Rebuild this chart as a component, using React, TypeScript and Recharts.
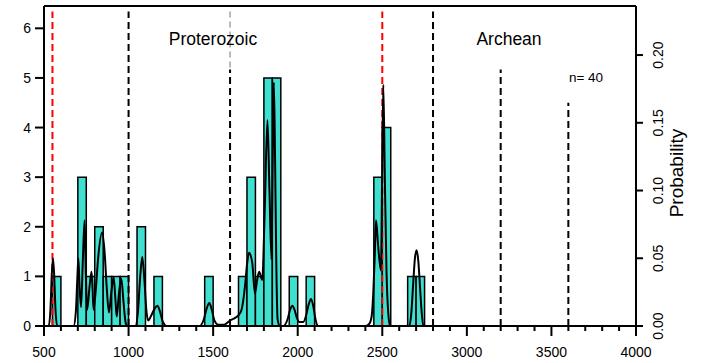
import React from 'react';
import {
  ComposedChart,
  Line,
  XAxis,
  YAxis,
  ReferenceArea,
  ReferenceLine,
} from 'recharts';

// histogram bins (start age in Ma, bin width 50) and counts
const BIN_STARTS = [550, 700, 750, 800, 850, 900, 950, 1050, 1150, 1450, 1650, 1700, 1750, 1800, 1850, 1950, 2050, 2450, 2500, 2650, 2700];
const BIN_COUNTS = [1, 3, 1, 2, 1, 1, 1, 2, 1, 1, 1, 3, 1, 5, 5, 1, 1, 3, 4, 1, 1];
const BIN_WIDTH = 50;

// probability density curve
const DENS_X = [
  500, 528, 538, 546, 553, 560, 568, 578,
  675, 688, 697, 703, 710, 719, 730, 740, 747, 755, 770, 781, 787, 793,
  805, 820, 843, 858, 870, 884, 898, 912, 922, 930, 943, 957, 970, 982, 992,
  1040, 1055, 1068, 1081, 1094, 1105, 1116, 1135, 1155, 1170, 1185, 1200, 1225,
  1420, 1445, 1462, 1477, 1492, 1508, 1530, 1565, 1600, 1630, 1650, 1668, 1688,
  1700, 1712, 1731, 1747, 1760, 1772, 1790, 1806, 1821, 1833, 1845, 1852, 1859,
  1866, 1873, 1881, 1895, 1915, 1940, 1955, 1968, 1981, 1995, 2010, 2033, 2050,
  2065, 2079, 2093, 2105, 2121, 2400, 2425, 2437, 2447, 2455, 2463, 2475, 2492,
  2499, 2506, 2515, 2525, 2535, 2546, 2660, 2672, 2683, 2693, 2703, 2713, 2723,
  2733, 2743, 4000,
];
const DENS_P = [
  0, 0, 0.012, 0.038, 0.05, 0.038, 0.012, 0,
  0, 0.01, 0.035, 0.05, 0.03, 0.014, 0.05, 0.078, 0.04, 0.012, 0.03, 0.04, 0.028, 0.012,
  0.025, 0.05, 0.069, 0.055, 0.03, 0.01, 0.025, 0.036, 0.02, 0.007, 0.024, 0.035, 0.018, 0.003, 0,
  0, 0.01, 0.035, 0.051, 0.033, 0.012, 0.004, 0.008, 0.013, 0.015, 0.011, 0.004, 0,
  0, 0.005, 0.013, 0.017, 0.012, 0.004, 0.001, 0.001, 0.004, 0.006, 0.008, 0.012, 0.029,
  0.045, 0.054, 0.047, 0.024, 0.034, 0.04, 0.034, 0.09, 0.152, 0.1, 0.049, 0.12, 0.18,
  0.125, 0.05, 0.005, 0, 0, 0.005, 0.012, 0.015, 0.012, 0.006, 0.003, 0.003, 0.008,
  0.016, 0.02, 0.014, 0.005, 0, 0, 0.002, 0.007, 0.025, 0.05, 0.078, 0.06, 0.041,
  0.11, 0.178, 0.11, 0.04, 0.01, 0, 0, 0.01, 0.032, 0.05, 0.056, 0.048, 0.029,
  0.01, 0, 0,
];

// dashed boundary lines: age, top (in count units), colour
const BOUNDARY_X = [550, 1000, 1600, 2500, 2800, 3200, 3600];
const BOUNDARY_TOP = [6.34, 6.34, 5.17, 6.34, 6.34, 5.17, 4.5];
const BOUNDARY_COLOR = ['#ff0000', '#000', '#000', '#ff0000', '#000', '#000', '#000'];

const X_TICKS = [
  500, 600, 700, 800, 900, 1000, 1100, 1200, 1300, 1400, 1500, 1600, 1700, 1800, 1900,
  2000, 2100, 2200, 2300, 2400, 2500, 2600, 2700, 2800, 2900, 3000, 3100, 3200, 3300,
  3400, 3500, 3600, 3700, 3800, 3900, 4000,
];
const X_LABELS = [500, 1000, 1500, 2000, 2500, 3000, 3500, 4000];
const COUNT_TICKS = [0, 1, 2, 3, 4, 5, 6];
const PROB_TICKS = [0, 0.05, 0.1, 0.15, 0.2];
const PROB_LABELS = ['0.00', '0.05', '0.10', '0.15', '0.20'];

const COUNT_MAX = 6.45;
const PROB_MAX = 0.2362;

const FONT = '"Liberation Sans", Arial, sans-serif';

const density = DENS_X.map((x, i) => ({ x, p: DENS_P[i] }));

const XTick = (props: any) => {
  const { x, y, payload } = props;
  const major = X_LABELS.includes(payload.value);
  return (
    <g>
      <line x1={x} x2={x} y1={y} y2={y + (major ? 10 : 5)} stroke="#000" strokeWidth={2} />
      {major && (
        <text x={x} y={y + 31} textAnchor="middle" fontSize={14} fontFamily={FONT} fill="#000">
          {payload.value}
        </text>
      )}
    </g>
  );
};

const LeftTick = (props: any) => {
  const { x, y, payload } = props;
  return (
    <g>
      <line x1={x - 9} x2={x} y1={y} y2={y} stroke="#000" strokeWidth={2} />
      <text x={x - 13} y={y + 5} textAnchor="end" fontSize={14} fontFamily={FONT} fill="#000">
        {payload.value}
      </text>
    </g>
  );
};

const RightTick = (props: any) => {
  const { x, y, payload, index } = props;
  return (
    <g>
      <line x1={x} x2={x + 7} y1={y} y2={y} stroke="#000" strokeWidth={2} />
      <text
        transform={`translate(${x + 27}, ${y}) rotate(-90)`}
        textAnchor="middle"
        fontSize={14}
        fontFamily={FONT}
        fill="#000"
      >
        {PROB_LABELS[index] ?? payload.value}
      </text>
    </g>
  );
};

export default function App() {
  return (
    <div style={{ position: 'relative', width: 704, height: 363, background: '#fff' }}>
      <style>{'body{margin:0}'}</style>
      <ComposedChart
        width={704}
        height={363}
        data={density}
        margin={{ top: 6, right: 0, bottom: 0, left: 0 }}
      >
        <XAxis
          dataKey="x"
          type="number"
          domain={[500, 4000]}
          ticks={X_TICKS}
          interval={0}
          height={37}
          tickSize={0}
          tickMargin={0}
          tick={<XTick />}
          axisLine={{ stroke: '#000', strokeWidth: 2 }}
          allowDataOverflow
        />
        <YAxis
          yAxisId="left"
          type="number"
          domain={[0, COUNT_MAX]}
          ticks={COUNT_TICKS}
          interval={0}
          width={44}
          tickSize={0}
          tickMargin={0}
          tick={<LeftTick />}
          axisLine={{ stroke: '#000', strokeWidth: 2 }}
          allowDataOverflow
        />
        <YAxis
          yAxisId="right"
          orientation="right"
          type="number"
          domain={[0, PROB_MAX]}
          ticks={PROB_TICKS}
          interval={0}
          width={68}
          tickSize={0}
          tickMargin={0}
          tick={<RightTick />}
          axisLine={{ stroke: '#000', strokeWidth: 2 }}
          allowDataOverflow
        />
        {BIN_STARTS.map((s, i) => (
          <ReferenceArea
            key={'bin' + s}
            yAxisId="left"
            x1={s}
            x2={s + BIN_WIDTH}
            y1={0}
            y2={BIN_COUNTS[i]}
            fill="#40E0D0"
            fillOpacity={1}
            stroke="#000"
            strokeWidth={1.5}
          />
        ))}
        <ReferenceLine yAxisId="left" y={COUNT_MAX} stroke="#000" strokeWidth={2} />
        <ReferenceLine
          yAxisId="left"
          segment={[{ x: 1600, y: 5.21 }, { x: 1600, y: 6.38 }]}
          stroke="#777"
          strokeWidth={1}
          strokeDasharray="6 4"
        />
        {BOUNDARY_X.map((bx, i) => (
          <ReferenceLine
            key={'b' + bx}
            yAxisId="left"
            segment={[{ x: bx, y: 0 }, { x: bx, y: BOUNDARY_TOP[i] }]}
            stroke={BOUNDARY_COLOR[i]}
            strokeWidth={2}
            strokeDasharray="7 4"
          />
        ))}
        <Line
          yAxisId="right"
          dataKey="p"
          type="monotone"
          dot={false}
          stroke="#000"
          strokeWidth={2}
          isAnimationActive={false}
        />
      </ComposedChart>
      <svg
        width={704}
        height={363}
        style={{ position: 'absolute', left: 0, top: 0, pointerEvents: 'none' }}
        fontFamily={FONT}
      >
        <text x={213} y={45} textAnchor="middle" fontSize={17.5} fill="#000">Proterozoic</text>
        <text x={509} y={45} textAnchor="middle" fontSize={17.5} fill="#000">Archean</text>
        <text x={586} y={82} textAnchor="middle" fontSize={13.5} fill="#000">n= 40</text>
        <text
          transform="translate(683, 173) rotate(-90)"
          textAnchor="middle"
          fontSize={19}
          fill="#000"
        >
          Probability
        </text>
      </svg>
    </div>
  );
}
